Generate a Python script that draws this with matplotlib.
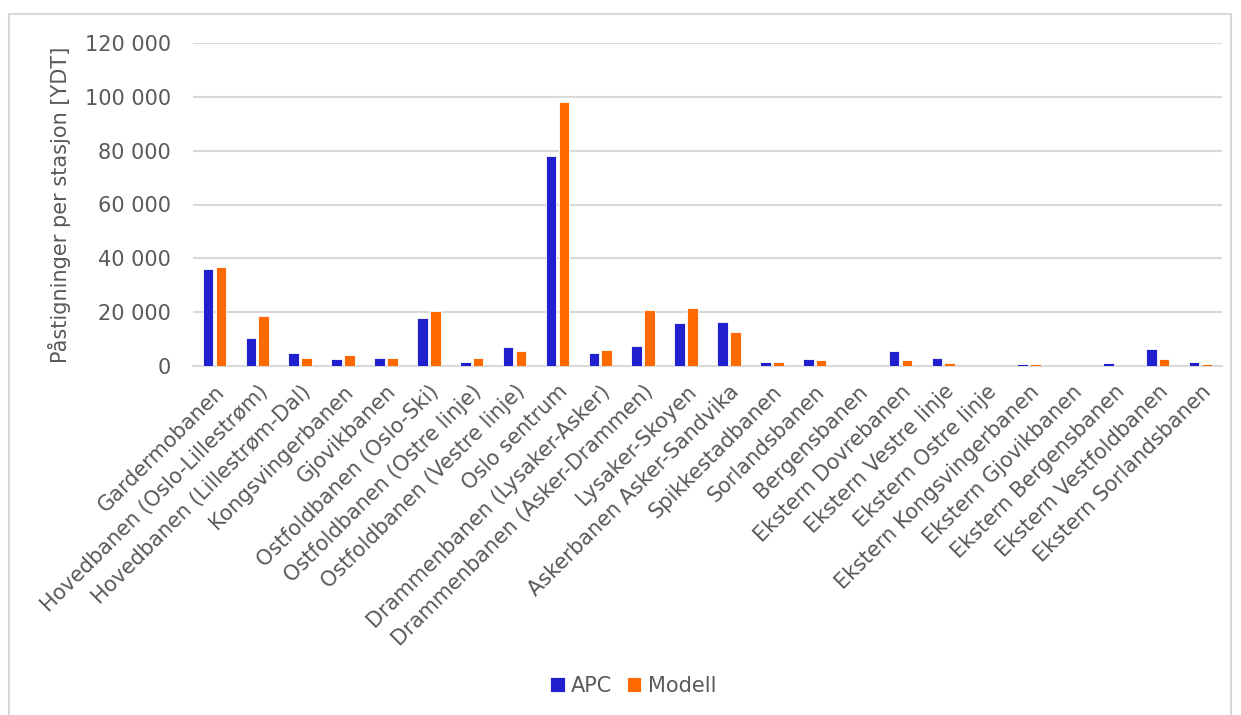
import matplotlib
matplotlib.use("Agg")
import matplotlib.pyplot as plt
from matplotlib.ticker import FuncFormatter
from matplotlib.patches import Rectangle
import numpy as np

categories = [
    "Gardermobanen", "Hovedbanen (Oslo-Lillestrøm)", "Hovedbanen (Lillestrøm-Dal)",
    "Kongsvingerbanen", "Gjovikbanen", "Ostfoldbanen (Oslo-Ski)",
    "Ostfoldbanen (Ostre linje)", "Ostfoldbanen (Vestre linje)", "Oslo sentrum",
    "Drammenbanen (Lysaker-Asker)", "Drammenbanen (Asker-Drammen)", "Lysaker-Skoyen",
    "Askerbanen Asker-Sandvika", "Spikkestadbanen", "Sorlandsbanen", "Bergensbanen",
    "Ekstern Dovrebanen", "Ekstern Vestre linje", "Ekstern Ostre linje",
    "Ekstern Kongsvingerbanen", "Ekstern Gjovikbanen", "Ekstern Bergensbanen",
    "Ekstern Vestfoldbanen", "Ekstern Sorlandsbanen",
]
apc = [35900, 10400, 5000, 2600, 3000, 18000, 1600, 7000, 78000,
       5000, 7400, 16100, 16500, 1600, 2600, 0, 5500, 3000, 0,
       750, 0, 1100, 6400, 1600]
modell = [36700, 18400, 3000, 4000, 3000, 20400, 3000, 5500, 98000,
          6000, 20900, 21400, 12700, 1600, 2100, 0, 2100, 1100, 0,
          750, 0, 0, 2600, 750]
series_names = ["APC", "Modell"]
yticks = [0, 20000, 40000, 60000, 80000, 100000, 120000]

c_apc = "#2020cf"
c_mod = "#ff6a00"
txt = "#595959"
grid = "#d9d9d9"

fig = plt.figure(figsize=(12.41, 7.15), dpi=100)
fig.patches.append(Rectangle((9/1241, -0.01), (1231-9)/1241, 1.01 - 14/715,
                             transform=fig.transFigure, fill=False,
                             edgecolor=grid, linewidth=1.5))

ax = fig.add_axes([193/1241, 1 - 366/715, (1222-193)/1241, (366-43)/715])
x = np.arange(len(categories))
w = 0.25
ax.bar(x - 0.15, apc, w, color=c_apc, edgecolor="white", linewidth=0.6,
       label=series_names[0], zorder=3)
ax.bar(x + 0.15, modell, w, color=c_mod, edgecolor="white", linewidth=0.6,
       label=series_names[1], zorder=3)

ax.set_xlim(-0.5, len(categories) - 0.5)
ax.set_ylim(0, 120000)
ax.set_yticks(yticks)
ax.yaxis.set_major_formatter(FuncFormatter(lambda v, p: f"{int(v):,}".replace(",", " ")))
ax.grid(axis="y", color=grid, linewidth=1.5, zorder=0)
ax.set_axisbelow(True)
for s in ["top", "right", "left"]:
    ax.spines[s].set_visible(False)
ax.spines["bottom"].set_color(grid)
ax.spines["bottom"].set_linewidth(1.5)
ax.tick_params(axis="y", length=0, pad=16, labelsize=15, labelcolor=txt)
ax.tick_params(axis="x", length=0, pad=11, labelsize=15, labelcolor=txt)
ax.set_xticks(x)
ax.set_xticklabels(categories, rotation=45, ha="right", va="top",
                   rotation_mode="anchor")

ax.set_ylabel("Påstigninger per stasjon [YDT]", fontsize=15, color=txt, labelpad=10)

leg = fig.legend(loc="center", bbox_to_anchor=(633/1241, 1 - 686/715), ncol=2,
                 frameon=False, fontsize=15, handlelength=0.7, handleheight=0.7,
                 handletextpad=0.3, columnspacing=0.7)
for t in leg.get_texts():
    t.set_color(txt)

fig.savefig("out.png", dpi=100)
